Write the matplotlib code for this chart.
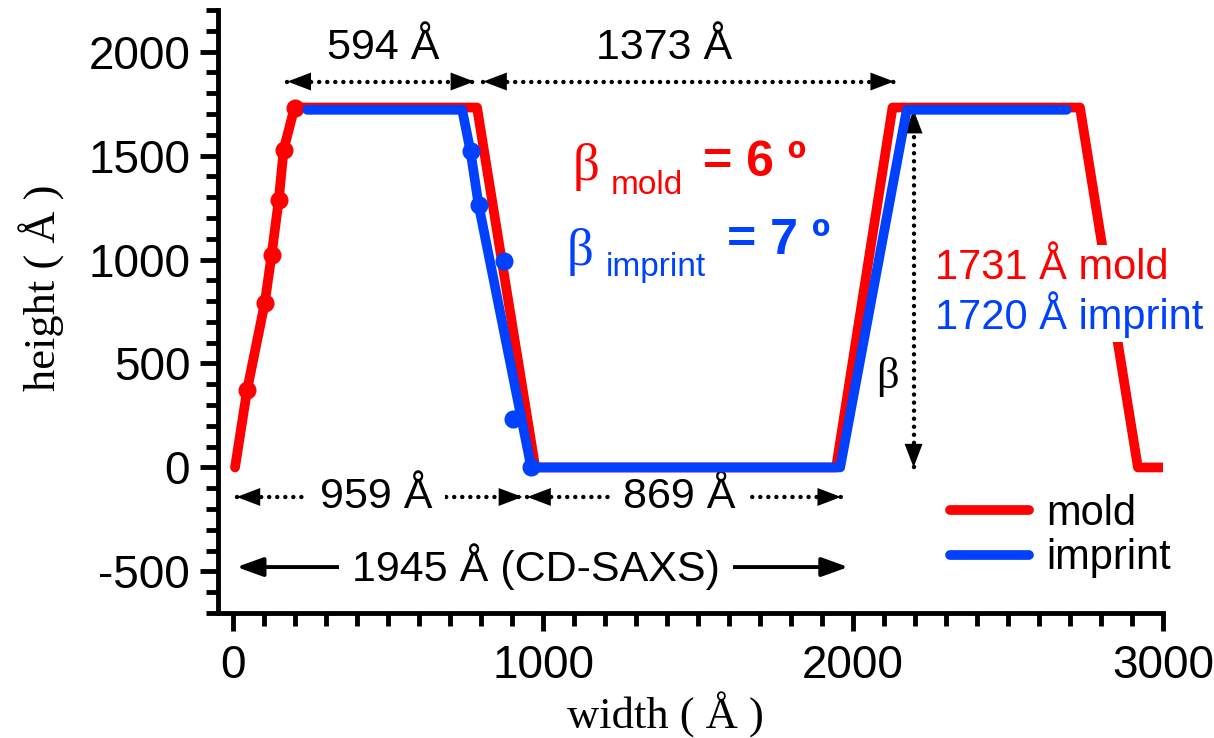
import matplotlib
matplotlib.use("Agg")
import matplotlib.pyplot as plt
from matplotlib.ticker import MultipleLocator

plt.rcParams['font.family'] = ['Liberation Sans', 'DejaVu Sans']
plt.rcParams['axes.unicode_minus'] = False

# Trapezoid profile of the mold (fitted line) and the measured edge points
mold_x = [5, 44, 101, 123, 146, 162, 197, 786, 974, 1945, 2127, 2732, 2919, 3000]
mold_y = [0, 373, 791, 1023, 1285, 1529, 1731, 1731, 0, 0, 1731, 1731, 0, 0]
mold_pts_x = [44, 101, 123, 146, 162, 197]
mold_pts_y = [373, 791, 1023, 1285, 1529, 1731]

# Trapezoid profile of the imprint and its measured edge points
imprint_x = [238, 738, 765, 791, 961, 1958, 2173, 2689]
imprint_y = [1720, 1720, 1520, 1264, 0, 0, 1720, 1720]
imprint_pts_x = [765, 791, 874, 902, 961]
imprint_pts_y = [1520, 1264, 991, 232, 0]

# Dimension arrows: (start, end, level)
top_dims = [(174, 777, 1856), (806, 2132, 1856)]
top_labels = [("594 Å", 484, 2015), ("1373 Å", 1390, 2015)]
low_dims = [(10, 932, -142), (948, 1961, -142)]
low_labels = [("959 Å", 461, -142), ("869 Å", 1439, -142)]
saxs_dim = (10, 1984, -479)
saxs_label = ("1945 Å (CD-SAXS)", 977, -479)
height_dim = (2195, 0, 1720)

RED = '#FF0000'
BLUE = '#0041FF'
FS = 31

fig = plt.figure(figsize=(12.14, 7.38), dpi=100)
ax = fig.add_axes([218 / 1214, 1 - 613 / 738, 945 / 1214, 603 / 738])
ax.set_xlim(-50, 3000)
ax.set_ylim(-700, 2200)

line_kw = dict(lw=7, solid_capstyle='round', solid_joinstyle='round')
mold_line, = ax.plot(mold_x, mold_y, color=RED, zorder=2, label='mold', **line_kw)
ax.plot(mold_pts_x, mold_pts_y, 'o', color=RED, ms=12, zorder=2.1)
imprint_line, = ax.plot(imprint_x, imprint_y, color=BLUE, zorder=3, label='imprint', **line_kw)
ax.plot(imprint_pts_x, imprint_pts_y, 'o', color=BLUE, ms=12, zorder=3.1)

HEAD = '-|>,head_length=1.0,head_width=0.38'
DOTS = dict(color='black', lw=3.2, linestyle=(0, (0.01, 1.8)), dash_capstyle='round', zorder=1)


def head(tip, tail, z=1.7):
    ax.annotate('', xy=tip, xytext=tail,
                arrowprops=dict(arrowstyle=HEAD, mutation_scale=17, lw=0,
                                color='black', shrinkA=0, shrinkB=0),
                zorder=z)


def dotted_h(x0, x1, y):
    ax.plot([x0, x1], [y, y], **DOTS)
    head((x0, y), (x0 + 150, y))
    head((x1, y), (x1 - 150, y))


for x0, x1, y in top_dims + low_dims:
    dotted_h(x0, x1, y)

for txt, x, y in top_labels:
    ax.text(x, y, txt, ha='center', va='center', fontsize=FS)

box = dict(fc='white', ec='none', boxstyle='square,pad=0.3')
for txt, x, y in low_labels:
    ax.text(x, y, txt, ha='center', va='center', fontsize=FS, bbox=box, zorder=1.5)

# solid CD-SAXS pitch arrow
sx0, sx1, sy = saxs_dim
ax.annotate('', xy=(sx0, sy), xytext=(sx1, sy),
            arrowprops=dict(arrowstyle='<|-|>,head_length=1.0,head_width=0.36',
                            mutation_scale=16, lw=2.8, color='black',
                            shrinkA=0, shrinkB=0), zorder=1)
ax.text(saxs_label[1], saxs_label[2], saxs_label[0], ha='center', va='center',
        fontsize=FS, bbox=box, zorder=1.5)

# vertical height arrow
hx, hy0, hy1 = height_dim
ax.plot([hx, hx], [hy0, hy1], **DOTS)
head((hx, hy0), (hx, hy0 + 200))
head((hx, hy1), (hx, hy1 - 200))
ax.text(2074, 435, 'β', fontsize=32, family='Liberation Serif', ha='left', va='center')

# sidewall angles
ax.text(1094, 1384, 'β', color=RED, fontsize=38, family='Liberation Serif', ha='left', va='baseline')
ax.text(1219, 1317, 'mold', color=RED, fontsize=24, ha='left', va='baseline')
ax.text(1516, 1400, '= 6 º', color=RED, fontsize=36, weight='bold', ha='left', va='baseline')
ax.text(1074, 975, 'β', color=BLUE, fontsize=38, family='Liberation Serif', ha='left', va='baseline')
ax.text(1200, 922, 'imprint', color=BLUE, fontsize=24, ha='left', va='baseline')
ax.text(1594, 1025, '= 7 º', color=BLUE, fontsize=36, weight='bold', ha='left', va='baseline')

# line heights
hbox = dict(fc='white', ec='none', boxstyle='square,pad=0.08')
ax.text(2265, 960, '1731 Å mold', color=RED, fontsize=30, ha='left', va='center', bbox=hbox, zorder=6)
ax.text(2265, 733, '1720 Å imprint', color=BLUE, fontsize=30, ha='left', va='center', bbox=hbox, zorder=6)

leg = ax.legend(handles=[mold_line, imprint_line], loc='upper left',
                bbox_to_anchor=(950 / 1214, 1 - 494 / 738), bbox_transform=fig.transFigure,
                frameon=False, fontsize=30, handlelength=1.9, handletextpad=0.4,
                labelspacing=0.1, borderpad=0, borderaxespad=0)

# axes styling
for s in ('top', 'right'):
    ax.spines[s].set_visible(False)
for s in ('left', 'bottom'):
    ax.spines[s].set_linewidth(3.5)
ax.xaxis.set_major_locator(MultipleLocator(1000))
ax.xaxis.set_minor_locator(MultipleLocator(100))
ax.yaxis.set_major_locator(MultipleLocator(500))
ax.yaxis.set_minor_locator(MultipleLocator(100))
ax.tick_params(which='major', direction='out', length=13, width=3.5, labelsize=33)
ax.tick_params(which='minor', direction='out', length=9, width=3.5)
ax.tick_params(axis='x', which='major', pad=9)
ax.tick_params(axis='y', which='major', pad=7)

ax.set_xlabel('width ( Å )', family='Liberation Serif', fontsize=32, va='center')
ax.set_ylabel('height ( Å )', family='Liberation Serif', fontsize=32, va='center')
ax.xaxis.set_label_coords((665 - 218) / 945, (613 - 715) / 603)
ax.yaxis.set_label_coords((42 - 218) / 945, (613 - 288) / 603)

fig.savefig('out.png', dpi=100)
